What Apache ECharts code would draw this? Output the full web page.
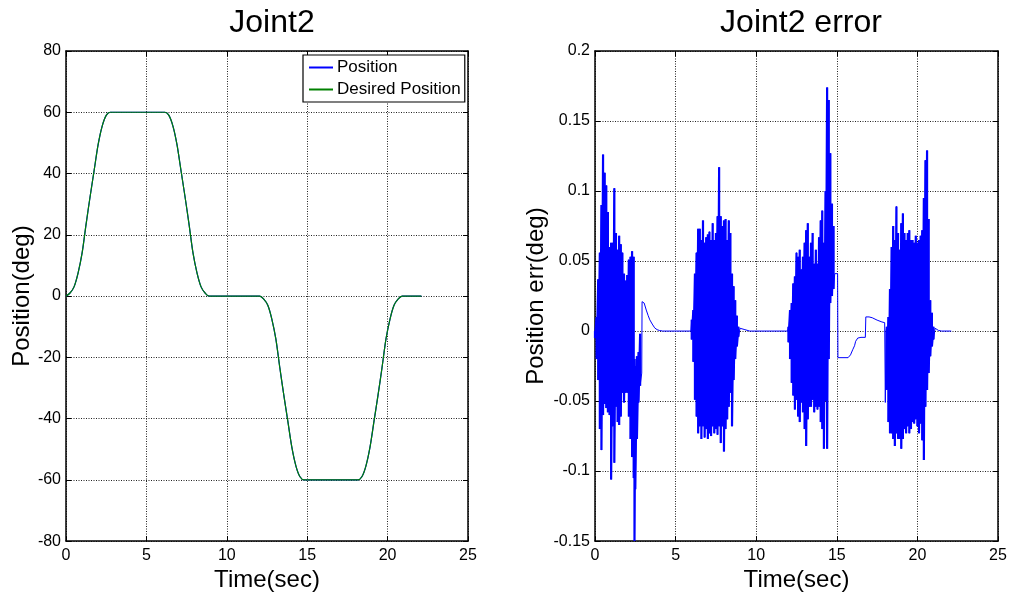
<!DOCTYPE html>
<html>
<head>
<meta charset="utf-8">
<title>Joint2</title>
<script src="https://cdn.jsdelivr.net/npm/echarts@6/dist/echarts.min.js"></script>
<style>
  html, body { margin: 0; padding: 0; background: #fff; }
  #chart { width: 1011px; height: 597px; }
</style>
</head>
<body>
<div id="chart"></div>
<script>
// ---- left plot: joint angle (deg) against time (sec) ----
const posTime = [0, 0.25, 0.5, 0.75, 1, 1.25, 1.5, 1.75, 2, 2.25, 2.5, 2.75,
  6.15, 6.4, 6.65, 6.9, 7.15, 7.4, 7.65, 7.9, 8.15, 8.4, 8.65, 8.9,
  12.05, 12.3, 12.55, 12.8, 13.05, 13.3, 13.55, 13.8, 14.05, 14.3, 14.55, 14.8,
  18.15, 18.4, 18.65, 18.9, 19.15, 19.4, 19.65, 19.9, 20.15, 20.4, 20.65, 20.9, 22.1];
const desiredDeg = [0, 1, 3, 7.5, 14, 23.5, 32.5, 41, 49.5, 55.5, 59, 60,
  60, 59, 55.5, 49.5, 41, 32.5, 23.5, 14, 7.5, 3, 1, 0,
  0, -1, -3, -7.5, -14, -23.5, -32.5, -41, -49.5, -55.5, -59, -60,
  -60, -59, -55.5, -49.5, -41, -32.5, -23.5, -14, -7.5, -3, -1, 0, 0];
// measured position lies under the desired curve at this scale
const positionDeg = [0, 1, 3, 7.5, 14, 23.5, 32.5, 41, 49.5, 55.5, 59, 60,
  60, 59, 55.5, 49.5, 41, 32.5, 23.5, 14, 7.5, 3, 1, 0,
  0, -1, -3, -7.5, -14, -23.5, -32.5, -41, -49.5, -55.5, -59, -60,
  -60, -59, -55.5, -49.5, -41, -32.5, -23.5, -14, -7.5, -3, -1, 0, 0];

// ---- right plot: position error (deg) ----
// bursts of fast oscillation: [time, upper peak, lower peak]
const errBurst1 = [[0,0,-0.005],[0.1,0.01,-0.02],[0.2,0.037,-0.035],[0.3,0.056,-0.07],[0.4,0.09,-0.085],
  [0.5,0.126,-0.06],[0.6,0.113,-0.052],[0.7,0.104,-0.055],[0.8,0.085,-0.058],[0.9,0.06,-0.06],
  [1.0,0.063,-0.106],[1.1,0.063,-0.068],[1.2,0.102,-0.094],[1.3,0.07,-0.054],[1.4,0.058,-0.065],
  [1.5,0.068,-0.067],[1.6,0.062,-0.061],[1.7,0.056,-0.044],[1.8,0.041,-0.051],[1.9,0.036,-0.044],
  [2.0,0.04,-0.044],[2.1,0.051,-0.061],[2.2,0.053,-0.077],[2.3,0.057,-0.09],[2.4,0.053,-0.105],
  [2.45,-0.02,-0.15],[2.5,-0.025,-0.113],[2.6,-0.018,-0.077],[2.7,-0.015,-0.051],[2.8,-0.002,-0.039]];
const errBurst2 = [[6.0,0.008,-0.006],[6.1,0.015,-0.022],[6.2,0.041,-0.049],[6.3,0.056,-0.061],[6.4,0.073,-0.073],
  [6.5,0.073,-0.068],[6.6,0.065,-0.077],[6.7,0.079,-0.068],[6.8,0.063,-0.076],[6.9,0.067,-0.07],
  [7.0,0.069,-0.077],[7.1,0.071,-0.073],[7.2,0.065,-0.075],[7.3,0.077,-0.068],[7.4,0.065,-0.073],
  [7.5,0.07,-0.07],[7.6,0.082,-0.074],[7.7,0.117,-0.068],[7.8,0.082,-0.08],[7.9,0.075,-0.068],
  [8.0,0.079,-0.086],[8.1,0.08,-0.07],[8.2,0.065,-0.063],[8.3,0.079,-0.054],[8.4,0.07,-0.044],
  [8.5,0.041,-0.068],[8.6,0.032,-0.035],[8.7,0.022,-0.02],[8.8,0.011,-0.011],[8.9,0.003,-0.004]];
const errBurst3 = [[12.0,0.003,-0.008],[12.1,0.015,-0.02],[12.2,0.02,-0.037],[12.3,0.034,-0.046],[12.4,0.039,-0.056],
  [12.5,0.056,-0.049],[12.6,0.053,-0.061],[12.7,0.058,-0.065],[12.8,0.044,-0.051],[12.9,0.053,-0.058],
  [13.0,0.063,-0.07],[13.1,0.072,-0.082],[13.2,0.077,-0.063],[13.3,0.053,-0.054],[13.4,0.063,-0.054],
  [13.5,0.07,-0.049],[13.6,0.048,-0.058],[13.7,0.058,-0.054],[13.8,0.048,-0.056],[13.9,0.067,-0.054],
  [14.0,0.079,-0.065],[14.1,0.086,-0.07],[14.2,0.063,-0.084],[14.3,0.1,-0.05],[14.4,0.174,-0.084],
  [14.5,0.165,-0.02],[14.6,0.127,0.02],[14.7,0.091,0.025],[14.8,0.075,0.03]];
const errBurst4 = [[18.1,0.003,-0.042],[18.2,0.01,-0.065],[18.3,0.03,-0.073],[18.4,0.06,-0.073],[18.5,0.075,-0.077],
  [18.6,0.065,-0.082],[18.7,0.089,-0.073],[18.8,0.07,-0.077],[18.9,0.058,-0.077],[19.0,0.077,-0.084],
  [19.1,0.084,-0.077],[19.2,0.07,-0.07],[19.3,0.065,-0.073],[19.4,0.07,-0.068],[19.5,0.072,-0.073],
  [19.6,0.065,-0.07],[19.7,0.065,-0.065],[19.8,0.063,-0.066],[19.9,0.068,-0.063],[20.0,0.063,-0.068],
  [20.1,0.065,-0.073],[20.2,0.068,-0.066],[20.3,0.072,-0.078],[20.4,0.095,-0.092],[20.5,0.122,-0.054],
  [20.6,0.129,-0.042],[20.7,0.08,-0.03],[20.8,0.022,-0.018],[20.9,0.013,-0.011],[21.0,0.003,-0.006]];
// slow parts between the bursts: [time, error]
const errSettle1 = [[2.9,-0.03],[2.92,0.021],[3.05,0.02],[3.18,0.015],[3.3,0.011],[3.4,0.008],[3.55,0.005],
  [3.7,0.0023],[3.85,0.001],[4.0,0.0004],[4.2,0],[5.95,0]];
const errSettle2 = [[9.0,0.002],[9.3,0.001],[9.6,0],[11.95,0]];
const errSettle3 = [[14.87,0.041],[15.05,0.041],[15.07,-0.019],[15.7,-0.019],[15.85,-0.017],[16.0,-0.013],
  [16.1,-0.0105],[16.17,-0.0073],[16.3,-0.005],[16.5,-0.0045],[16.77,-0.0045],[16.8,0.0101],[17.0,0.0101],
  [17.2,0.0095],[17.5,0.0078],[17.8,0.0065],[17.97,0.006],[18.01,-0.051],[18.05,0]];
const errSettle4 = [[21.1,0.002],[21.3,0.0005],[21.5,0],[22.1,0]];

const xTicks = [0, 5, 10, 15, 20, 25];

function zig(burst) {
  let out = [];
  burst.forEach(function (r) { out.push([r[0], r[1]]); out.push([r[0], r[2]]); });
  return out;
}
const errTrace = [].concat(zig(errBurst1), errSettle1, zig(errBurst2), errSettle2,
  zig(errBurst3), errSettle3, zig(errBurst4), errSettle4);

const FONT = 'Arial, "Liberation Sans", sans-serif';
const black = '#000';

function mainX(grid, name) {
  return {
    type: 'value', gridIndex: grid, min: xTicks[0], max: xTicks[xTicks.length - 1], interval: 5,
    name: name, nameLocation: 'middle', nameGap: 20,
    nameTextStyle: { color: black, fontSize: 24, fontFamily: FONT },
    axisLine: { show: true, onZero: false, lineStyle: { color: black, width: 1.5 } },
    axisTick: { show: true, inside: true, length: 5, lineStyle: { color: black } },
    axisLabel: { color: black, fontSize: 16, fontFamily: FONT, margin: 6 },
    splitLine: { show: true, lineStyle: { color: '#222', type: [1, 1.5], width: 1 } }
  };
}
function mirrorX(grid) {
  return {
    type: 'value', gridIndex: grid, position: 'top', min: 0, max: 25, interval: 5,
    axisLine: { show: true, onZero: false, lineStyle: { color: black, width: 1.5 } },
    axisTick: { show: true, inside: true, length: 5, lineStyle: { color: black } },
    axisLabel: { show: false }, splitLine: { show: false }
  };
}
function mainY(grid, min, max, step, name, gap, fmt) {
  return {
    type: 'value', gridIndex: grid, min: min, max: max, interval: step,
    name: name, nameLocation: 'middle', nameGap: gap,
    nameTextStyle: { color: black, fontSize: 24, fontFamily: FONT },
    axisLine: { show: true, onZero: false, lineStyle: { color: black, width: 1.5 } },
    axisTick: { show: true, inside: true, length: 5, lineStyle: { color: black } },
    axisLabel: { color: black, fontSize: 16, fontFamily: FONT, margin: 5, formatter: fmt },
    splitLine: { show: true, lineStyle: { color: '#222', type: [1, 1.5], width: 1 } }
  };
}
function mirrorY(grid, min, max, step) {
  return {
    type: 'value', gridIndex: grid, position: 'right', min: min, max: max, interval: step,
    axisLine: { show: true, onZero: false, lineStyle: { color: black, width: 1.5 } },
    axisTick: { show: true, inside: true, length: 5, lineStyle: { color: black } },
    axisLabel: { show: false }, splitLine: { show: false }
  };
}

// dense oscillation bursts drawn a bit heavier so they read as a solid band
const burstSeries = [errBurst1, errBurst2, errBurst3, errBurst4].map(function (b) {
  return { type: 'line', xAxisIndex: 2, yAxisIndex: 2, symbol: 'none', silent: true,
    color: '#0000ff', lineStyle: { width: 2.2 }, data: zig(b) };
});

let chart = echarts.init(document.getElementById('chart'));
chart.setOption({
  animation: false,
  backgroundColor: '#fff',
  title: [
    { text: 'Joint2', left: 267, top: 2, textAlign: 'center',
      textStyle: { color: black, fontSize: 32, fontWeight: 'normal', fontFamily: FONT } },
    { text: 'Joint2 error', left: 796, top: 2, textAlign: 'center',
      textStyle: { color: black, fontSize: 32, fontWeight: 'normal', fontFamily: FONT } }
  ],
  legend: {
    orient: 'vertical', left: 303, top: 55,
    padding: [4, 4, 4, 6], itemGap: 5, itemWidth: 24, itemHeight: 2,
    backgroundColor: '#fff', borderColor: black, borderWidth: 1.2,
    textStyle: { color: black, fontSize: 17, fontFamily: FONT, padding: [0, 0, 0, -1] },
    data: [{ name: 'Position', icon: 'rect' }, { name: 'Desired Position', icon: 'rect' }]
  },
  grid: [
    { left: 66, top: 51, width: 402, height: 491 },
    { left: 595, top: 51, width: 403, height: 491 }
  ],
  xAxis: [mainX(0, 'Time(sec)'), mirrorX(0), mainX(1, 'Time(sec)'), mirrorX(1)],
  yAxis: [
    mainY(0, -80, 80, 20, 'Position(deg)', 31, function (v) { return String(v); }),
    mirrorY(0, -80, 80, 20),
    mainY(1, -0.15, 0.2, 0.05, 'Position err(deg)', 47, function (v) { return String(+v.toFixed(2)); }),
    mirrorY(1, -0.15, 0.2, 0.05)
  ],
  series: [
    { name: 'Position', type: 'line', xAxisIndex: 0, yAxisIndex: 0, symbol: 'none', smooth: 0.3,
      color: '#0000ff', lineStyle: { width: 1.2 },
      data: posTime.map(function (t, i) { return [t, positionDeg[i]]; }) },
    { name: 'Desired Position', type: 'line', xAxisIndex: 0, yAxisIndex: 0, symbol: 'none', smooth: 0.3,
      color: '#008000', lineStyle: { width: 1.2 },
      data: posTime.map(function (t, i) { return [t, desiredDeg[i]]; }) },
    { name: 'Position err', type: 'line', xAxisIndex: 2, yAxisIndex: 2, symbol: 'none',
      color: '#0000ff', lineStyle: { width: 1 }, data: errTrace }
  ].concat(burstSeries)
});
</script>
</body>
</html>
